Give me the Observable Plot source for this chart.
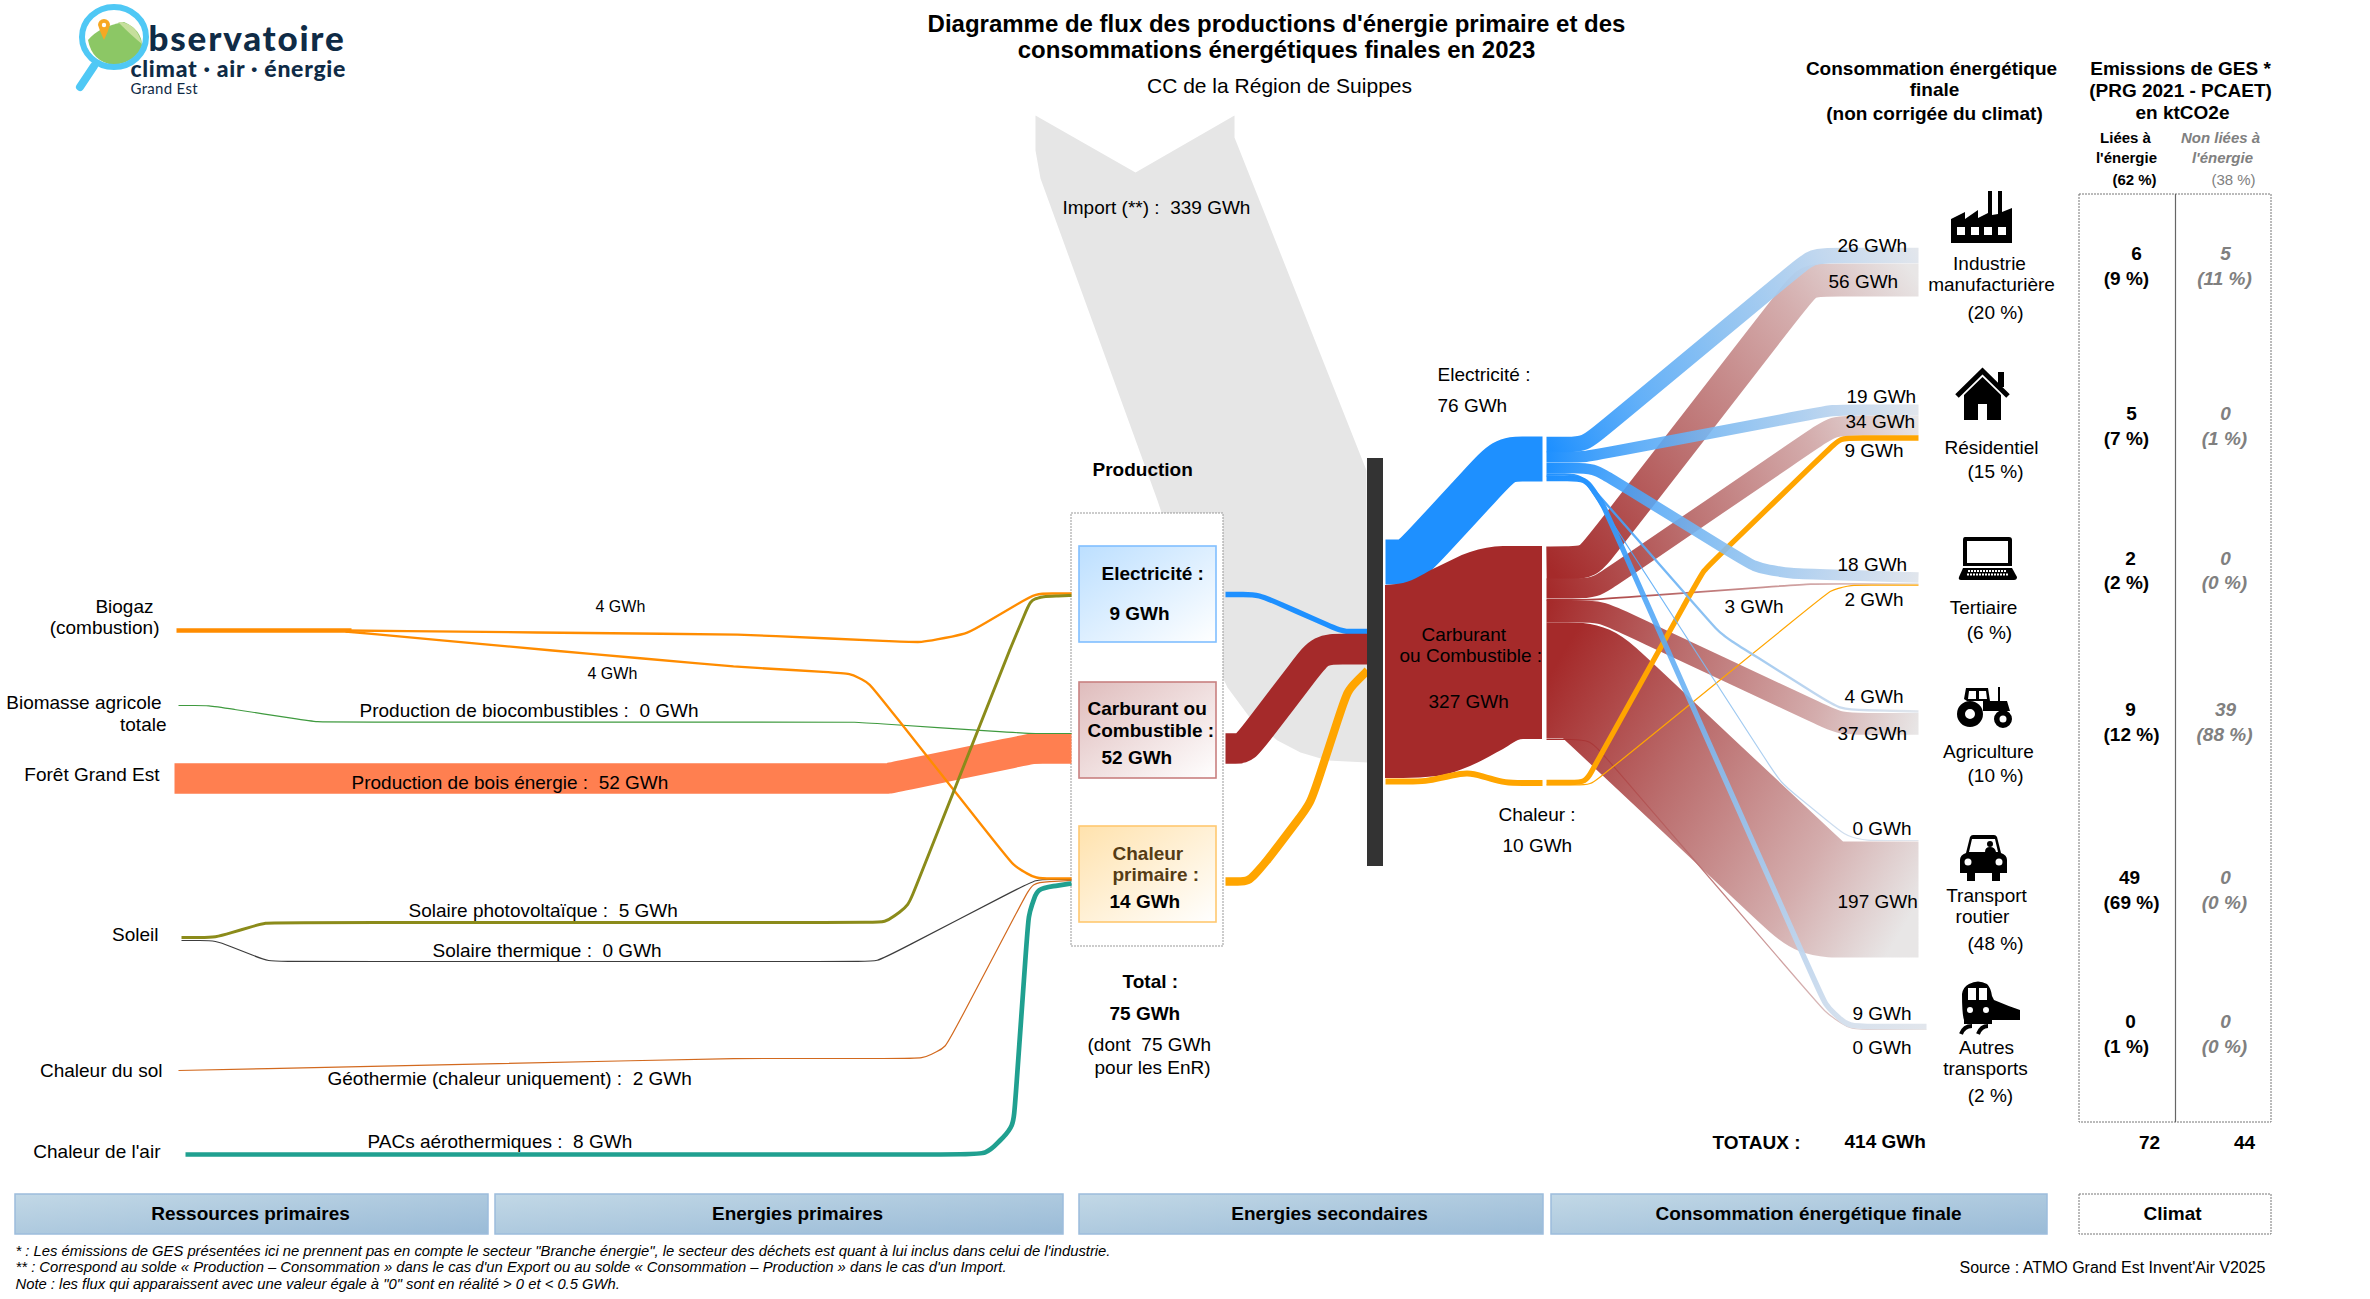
<!DOCTYPE html>
<html lang="fr">
<head>
<meta charset="utf-8">
<title>Diagramme de flux</title>
<script src="https://cdn.jsdelivr.net/npm/d3@7"></script>
<script src="https://cdn.jsdelivr.net/npm/@observablehq/plot@0.6"></script>
<style>html,body{margin:0;padding:0;background:#fff}svg{display:block}</style>
</head>
<body>
<div id="chart"></div>
<script>
// ---------- values (GWh, ktCO2e) ----------
const sectors = ["Industrie manufacturière","Résidentiel","Tertiaire","Agriculture","Transport routier","Autres transports"];
const sectorShares = [20,15,6,10,48,2];
const finalElectricity = [26,19,18,4,0,9];
const finalFuel = [56,34,3,37,197,0];
const finalHeat = [0,9,2,0,0,0];
const gesEnergy = [6,5,2,9,49,0];
const gesEnergyShare = [9,7,2,12,69,1];
const gesOther = [5,0,0,39,0,0];
const gesOtherShare = [11,1,0,88,0,0];
const gesTotals = [72,44];
const gesShares = [62,38];
const secondaryNames = ["Electricité","Carburant ou Combustible","Chaleur"];
const secondaryValues = [76,327,10];
const productionValues = [9,52,14];
const productionTotal = 75, productionRenewable = 75, importValue = 339, finalTotal = 414;
const biogasValues = [4,4];
const biofuelValue = 0, woodValue = 52, pvValue = 5, solarThermalValue = 0, geothermalValue = 2, heatPumpValue = 8;

// ---------- drawing scale and flow routes (chart units) ----------
const PX_PER_GWH = 0.59;
const thick = v => Math.max(1.2, v * PX_PER_GWH);

const electricityRoutes = [
  [[1546,444],[1584,444],[1812,255],[1918,255]],
  [[1546,456.5],[1585,456.5],[1832,409.5],[1918,409.5]],
  [[1546,467.5],[1593,467.5],[1755,567],[1790,573],[1918,577]],
  [[1546,474],[1580,474],[1717,630],[1730,640],[1840,709],[1918,711]],
  [[1546,475.5],[1582,476],[1780,782],[1845,835],[1865,840],[1918,840]],
  [[1546,478],[1585,478],[1603,505],[1825,1005],[1848,1026],[1926,1026]]
];
const fuelRoutes = [
  [[1546,562.5],[1588,562],[1807,279.6],[1918,279.6]],
  [[1546,588],[1594,588],[1833,425],[1918,425]],
  [[1546,599.5],[1590,599.5],[1810,583.3],[1918,583.3]],
  [[1546,611],[1600,611],[1840,723.3],[1918,723.3]],
  [[1546,680],[1586,680],[1819,899],[1918,899]],
  [[1546,739],[1590,739],[1825,1012],[1850,1029],[1926,1029]]
];
const heatRoutes = {
  1: [[1546,782],[1585,782],[1600,755],[1703,570],[1840,437.5],[1918,437.5]],
  2: [[1546,784.5],[1590,784.5],[1830,590],[1850,584.7],[1918,584.7]]
};
const electricityBlockRoute = [[1385,561.5],[1409,561.5],[1504,458.5],[1542,458.5]];
const heatBlockRoute = [[1385,781],[1425,781],[1467,771.5],[1505,782.5],[1542,782.5]];
const fuelBlockX = [1385,1403,1437,1470,1503,1523,1542];
const fuelBlockTop = [585,583,567,552,546,546,546];
const fuelBlockBottom = [778,778,776,766,749,739,739];
const importShape = [[1035,115],[1135,172],[1234,115],[1234,137],[1366,470],[1367,762],[1327,760],[1300,752],[1277,740],[1250,718],[1227,687],[1195,620],[1172,545],[1157,500],[1040,178],[1035,150]];

const prodRoutes = [
  {v:productionValues[0], c:"#1e90ff", r:[[1225,594],[1258,594],[1335,628],[1345,631],[1367,631]]},
  {v:productionValues[1], c:"#a52a2a", r:[[1225,748],[1244,748],[1320,648.7],[1367,648.7]]},
  {v:productionValues[2], c:"#ffa500", r:[[1225,881],[1248,881],[1265,862],[1310,803],[1347,690],[1367,670]]}
];
const sourceRoutes = [
  {v:woodValue, c:"#ff7f50", rad:6, r:[[174,778],[888,778],[1032,748],[1071,748]]},
  {v:biofuelValue, c:"#3f9a3f", r:[[178,705],[208,705],[317,721.6],[854,721.6],[1028,733],[1071,733]]},
  {v:solarThermalValue, c:"#3c3c3c", r:[[181,940],[215,940],[268,961],[877,961],[1035,879],[1071,879]]},
  {v:geothermalValue, c:"#d2691e", r:[[178,1070],[733,1058],[922,1058],[945,1047],[1032,882],[1071,880]]},
  {v:biogasValues[0]+biogasValues[1], c:"#ff8c00", r:[[176,630],[351,630]]},
  {v:biogasValues[0], c:"#ff8c00", r:[[345,630],[737,634],[921,642],[967,633],[1035,593],[1071,593]]},
  {v:biogasValues[1], c:"#ff8c00", r:[[345,631],[552,650],[733,666],[850,673],[869,683],[1013,865],[1035,878],[1071,878]]},
  {v:pvValue, c:"#8b8b1a", r:[[181,937],[215,937],[265,922],[885,922],[908,905],[1009,650],[1030,600],[1042,596],[1071,595]]},
  {v:heatPumpValue, c:"#20a090", rad:20, r:[[185,1154],[986,1154],[1013,1126],[1028,915],[1037,888],[1071,883]]}
];

// rounds a route's corners by placing extra spline knots beside each one
function smooth(route, rad = 22) {
  const out = [route[0]];
  for (let i = 1; i < route.length - 1; i++) {
    const [a, p, b] = [route[i-1], route[i], route[i+1]];
    const la = Math.hypot(p[0]-a[0], p[1]-a[1]), lb = Math.hypot(b[0]-p[0], b[1]-p[1]);
    const d1 = Math.min(rad, la/2.2), d2 = Math.min(rad, lb/2.2);
    out.push([p[0]-(p[0]-a[0])*d1/la, p[1]-(p[1]-a[1])*d1/la], p, [p[0]+(b[0]-p[0])*d2/lb, p[1]+(b[1]-p[1])*d2/lb]);
  }
  out.push(route[route.length-1]);
  return out;
}
const ribbon = (route, value, stroke, o = {}) => Plot.line(smooth(route, o.rad ?? 22), {
  curve: "basis", stroke, strokeWidth: thick(value), strokeLinecap: "butt", strokeLinejoin: "round"
});

// ---------- gradients ----------
const flowGradients = [];
const gradFor = (route, kind, i) => {
  const id = `${kind}${i}`;
  flowGradients.push({id, kind, a: route[0], b: route[route.length-1]});
  return `url(#${id})`;
};
const fuelMarks = fuelRoutes.map((r,i) => ribbon(r, finalFuel[i], gradFor(r,"fuel",i)));
const elecMarks = electricityRoutes.map((r,i) => ribbon(r, finalElectricity[i], gradFor(r,"elec",i)));
const heatMarks = Object.entries(heatRoutes).map(([i,r]) => ribbon(r, finalHeat[i], "#ffa500", {rad:14}));

const boxGradients = [
  ["bElec","#bcdfff","#ffffff"],["bFuel","#dfbcbc","#ffffff"],["bHeat","#ffe2ad","#ffffff"],["band","#c2d8e6","#9abbd7"]
];
const defs = () => {
  const d = d3.create("svg:defs");
  const stopsFlow = {
    fuel: [[0,"#a52a2a",1],[0.37,"#b96a6a",0.97],[0.74,"#d4adad",1],[1,"#e8e6e6",1]],
    elec: [[0,"#1e90ff",1],[0.25,"#4fa6f7",0.88],[0.5,"#85bdf0",0.9],[0.8,"#c0d6ee",0.95],[1,"#e2e6ec",1]]
  };
  for (const g of flowGradients) {
    const n = d.append("linearGradient").attr("id",g.id).attr("gradientUnits","userSpaceOnUse")
      .attr("x1",g.a[0]).attr("y1",g.a[1]).attr("x2",g.b[0]+1).attr("y2",g.b[1]+1);
    for (const [o,c,a] of stopsFlow[g.kind]) n.append("stop").attr("offset",o).attr("stop-color",c).attr("stop-opacity",a);
  }
  for (const [id,c1,c2] of boxGradients) {
    const n = d.append("linearGradient").attr("id",id).attr("x1",0).attr("y1",0).attr("x2",1).attr("y2",1);
    n.append("stop").attr("offset",0).attr("stop-color",c1);
    n.append("stop").attr("offset",1).attr("stop-color",c2);
  }
  return d.node();
};

// ---------- pictograms ----------
const circ = (x,y,r) => `M${x-r} ${y}a${r} ${r} 0 1 0 ${2*r} 0a${r} ${r} 0 1 0 ${-2*r} 0Z`;
const icons = [
  {x:1951,y:191,p:[{d:"M0 52V28L14 21V28L27 19V27L37 22V0H41V24L47 23V0H51V21L61 17V52ZM6 36V44H14V36ZM20 36V44H28V36ZM33 36V44H41V36ZM47 36V44H55V36Z"}]},
  {x:1954,y:367,p:[{d:"M3 29L28.5 4L54 29",fill:"none",stroke:"#000",sw:5},{d:"M44 5H50V20H44Z"},{d:"M10 28L28.5 10L47 28V53H33V37H24V53H10Z"}]},
  {x:1959,y:537,p:[{d:"M6 0H50Q53 0 53 3V29H4V3Q4 0 6 0ZM8 4V26H49V4Z"},{d:"M4 31H53L58 40Q58 43 55 43H2Q-1 43 0 40Z"},{d:"M9 34H48M8 37.5H49",fill:"none",stroke:"#fff",sw:2,dash:"2 1"}]},
  {x:1957,y:687,p:[{d:circ(13,27,13)+circ(13,27,5)},{d:circ(46,32,9)+circ(46,32,3.5)},{d:"M7 12L9 1H31L33 14H50L53 24H26V14H10ZM12 4L11 12H19V4ZM22 4V12H30L29 4Z"},{d:"M41 0V14H43V0Z"}]},
  {x:1960,y:835,p:[{d:"M6 18L10 2Q11 0 13 0H34Q36 0 37 2L41 18Q47 20 47 25V38H40V46H32V38H15V46H7V38H0V25Q0 20 6 18ZM12 4L9 17H38L35 4Z"+circ(8,27,3.5)+circ(39,27,3.5)},{d:"M27 9a3 3 0 1 1 6 0a3 3 0 1 1-6 0M25 17Q25 12 30 12Q35 12 36 17Z"}]},
  {x:1958,y:980,p:[{d:"M11 4Q20 -1 29 4Q33 8 34 16L36 20Q50 26 62 30V40H34V44H6V40Q4 34 4 14Q5 7 11 4ZM10 8V20H18V8ZM21 8V20H29V8ZM9 30a3 3 0 1 0 6 0a3 3 0 1 0-6 0M25 30a3 3 0 1 0 6 0a3 3 0 1 0-6 0"},{d:"M3 54Q6 46 14 46M20 54Q23 46 30 46",fill:"none",stroke:"#000",sw:4}]}
];
const drawIcons = (_, {x, y}) => {
  const g = d3.create("svg:g");
  for (const ic of icons) {
    const t = g.append("g").attr("transform",`translate(${x(ic.x)},${y(ic.y)})`);
    for (const s of ic.p) t.append("path").attr("d",s.d).attr("fill",s.fill ?? "#000").attr("fill-rule","evenodd")
      .attr("stroke",s.stroke ?? "none").attr("stroke-width",s.sw ?? 0).attr("stroke-dasharray",s.dash ?? null);
  }
  return g.node();
};
const drawLogo = (_, {x, y}) => {
  const g = d3.create("svg:g").attr("transform",`translate(${x(0)},${y(0)})`);
  g.append("path").attr("d","M88 40Q100 26 124 22Q142 30 142 46Q136 62 114 65Q92 62 88 40Z").attr("fill","#8cc765");
  g.append("path").attr("d","M118 22Q136 22 142 44Q132 36 118 22Z").attr("fill","#c6df9c");
  g.append("path").attr("d","M98 25a6 6 0 1 1 12 0Q108 32 104 40Q100 32 98 25Z").attr("fill","#f7a823");
  g.append("circle").attr("cx",104).attr("cy",25).attr("r",2.2).attr("fill","#fff");
  g.append("ellipse").attr("cx",114).attr("cy",37).attr("rx",32).attr("ry",30).attr("fill","none").attr("stroke","#4fc8f5").attr("stroke-width",6);
  g.append("path").attr("d","M94 66L80 87").attr("stroke","#4fc8f5").attr("stroke-width",8).attr("stroke-linecap","round");
  return g.node();
};
const spaced = em => function(index, scales, values, dims, context, next) {
  const g = next(index, scales, values, dims, context);
  d3.select(g).selectAll("text").attr("letter-spacing", em);
  return g;
};

// ---------- labels ----------
const gwh = v => `${v} GWh`;
const nb = "\u00a0";
const txt = (rows, o = {}) => Plot.text(rows, {x:d=>d[0], y:d=>d[1], text:d=>d[2], fontSize:19, fill:"#000", textAnchor:"start", ...o});
const B = {fontWeight:700};
const pc = v => `(${v} %)`;

const gesY = [[253,278],[413,438],[558,582],[709,734],[877,902],[1021,1046]];
const gesX1 = [[2136,2126],[2131,2126],[2130,2126],[2130,2131],[2129,2131],[2130,2126]];
const gesRows1 = gesEnergy.flatMap((v,i)=>[[gesX1[i][0],gesY[i][0],String(v)],[gesX1[i][1],gesY[i][1],pc(gesEnergyShare[i])]]);
const gesRows2 = gesOther.flatMap((v,i)=>[[2225,gesY[i][0],String(v)],[2224,gesY[i][1],pc(gesOtherShare[i])]]);

const startLabels = [
  [595,606,gwh(biogasValues[0])],[587,673,gwh(biogasValues[1])],
];
const flowLabels = [
  [359,710,`Production de biocombustibles :${nb} ${gwh(biofuelValue)}`],
  [351,782,`Production de bois énergie :${nb} ${gwh(woodValue)}`],
  [408,910,`Solaire photovoltaïque :${nb} ${gwh(pvValue)}`],
  [432,950,`Solaire thermique :${nb} ${gwh(solarThermalValue)}`],
  [327,1078,`Géothermie (chaleur uniquement) :${nb} ${gwh(geothermalValue)}`],
  [367,1141,`PACs aérothermiques :${nb} ${gwh(heatPumpValue)}`],
  [1062,207,`Import (**) :${nb} ${gwh(importValue)}`],
  [1437,374,`${secondaryNames[0]} :`],[1437,405,gwh(secondaryValues[0])],
  [1421,634,"Carburant"],[1399,655,"ou Combustible :"],[1428,701,gwh(secondaryValues[1])],
  [1498,814,`${secondaryNames[2]} :`],[1502,845,gwh(secondaryValues[2])],
  [1087,1044,`(dont${nb} ${gwh(productionRenewable)}`],[1094,1067,"pour les EnR)"],
  [1724,606,gwh(finalFuel[2])],
  [1837,245,gwh(finalElectricity[0])],[1828,281.5,gwh(finalFuel[0])],
  [1846,396,gwh(finalElectricity[1])],[1845,421,gwh(finalFuel[1])],[1844,450,gwh(finalHeat[1])],
  [1837,564,gwh(finalElectricity[2])],[1844,599,gwh(finalHeat[2])],
  [1844,696,gwh(finalElectricity[3])],[1837,733,gwh(finalFuel[3])],
  [1852,828,gwh(finalElectricity[4])],[1837,901,gwh(finalFuel[4])],
  [1852,1013,gwh(finalElectricity[5])],[1852,1047,gwh(finalFuel[5])]
];
const resourceLabels = [
  [153,606,"Biogaz"],[159,627,"(combustion)"],[161,702,"Biomasse agricole"],[166,724,"totale"],
  [159,774,"Forêt Grand Est"],[158,934,"Soleil"],[162,1070,"Chaleur du sol"],[160,1151,"Chaleur de l'air"]
];
const boldStart = [
  [1092,469,"Production"],
  [1101,573,`${secondaryNames[0]} :`],[1109,613,gwh(productionValues[0])],
  [1087,708,"Carburant ou"],[1087,730,"Combustible :"],[1101,757,gwh(productionValues[1])],
  [1109,901,gwh(productionValues[2])],
  [1122,981,"Total :"],[1109,1013,gwh(productionTotal)],
  [1712,1142,"TOTAUX :"],[1844,1141,gwh(finalTotal)]
];
const heatBoxLabels = [[1112,853,"Chaleur"],[1112,874,"primaire :"]];
const boldCentered = [
  [1931,68,"Consommation énergétique"],[1934,89,"finale"],[1934,113,"(non corrigée du climat)"],
  [2180,68,"Emissions de GES *"],[2180,90,"(PRG 2021 - PCAET)"],[2182,112,"en ktCO2e"],
  [2149,1142,String(gesTotals[0])],[2244,1142,String(gesTotals[1])],
  [250,1213,"Ressources primaires"],[797,1213,"Energies primaires"],[1329,1213,"Energies secondaires"],[1808,1213,"Consommation énergétique finale"],[2172,1213,"Climat"]
];
const sectorLabels = [
  [1989,263,"Industrie"],[1991,284,"manufacturière"],[1995,312,pc(sectorShares[0])],
  [1991,447,sectors[1]],[1995,471,pc(sectorShares[1])],
  [1983,607,sectors[2]],[1989,632,pc(sectorShares[2])],
  [1988,751,sectors[3]],[1995,775,pc(sectorShares[3])],
  [1986,895,"Transport"],[1982,916,"routier"],[1995,943,pc(sectorShares[4])],
  [1986,1047,"Autres"],[1985,1068,"transports"],[1990,1095,pc(sectorShares[5])]
];
const footnotes = [
  [15,1251,"* : Les émissions de GES présentées ici ne prennent pas en compte le secteur \"Branche énergie\", le secteur des déchets est quant à lui inclus dans celui de l'industrie."],
  [15,1267,"** : Correspond au solde « Production – Consommation » dans le cas d'un Export ou au solde « Consommation – Production » dans le cas d'un Import."],
  [15,1284,"Note : les flux qui apparaissent avec une valeur égale à \"0\" sont en réalité > 0 et < 0.5 GWh."]
];

const bands = [[15,488],[495,1063],[1079,1543],[1551,2047]];
const prodBoxes = [
  {y1:546,y2:642,fill:"url(#bElec)",stroke:"#80bfff"},
  {y1:682,y2:778,fill:"url(#bFuel)",stroke:"#c88080"},
  {y1:826,y2:922,fill:"url(#bHeat)",stroke:"#ffc870"}
];

const chart = Plot.plot({
  width: 2370, height: 1299, margin: 0,
  x: {domain:[0,2370], range:[0,2370], axis:null},
  y: {domain:[0,1299], range:[0,1299], axis:null},
  style: {fontFamily:"'Liberation Sans', Arial, sans-serif", background:"#fff", overflow:"hidden"},
  marks: [
    defs,
    drawLogo,
    txt([[148,39,"bservatoire"]],{fontFamily:"Lato, sans-serif",fontWeight:900,fontSize:35,fill:"#0f2b46",render:spaced(1.8)}),
    txt([[130,69,"climat · air · énergie"]],{fontFamily:"Lato, sans-serif",fontWeight:900,fontSize:23,fill:"#0f2b46",render:spaced(0.7)}),
    txt([[130,89,"Grand Est"]],{fontFamily:"Lato, sans-serif",fontSize:15,fill:"#0f2b46",render:spaced(0.3)}),

    Plot.line(importShape,{fill:"#e6e6e6",stroke:"none",curve:"linear"}),

    // production box
    Plot.rect([{}],{x1:1071,x2:1223,y1:513,y2:946,fill:"#fff",stroke:"#999",strokeDasharray:"2,1"}),
    Plot.rect(prodBoxes,{x1:1079,x2:1216,y1:"y1",y2:"y2",fill:d=>d.fill,stroke:d=>d.stroke,strokeWidth:1.6}),

    // primary resources towards production
    ...sourceRoutes.map(s => ribbon(s.r, s.v, s.c, {rad:s.rad ?? 16})),
    // production towards the hub
    ...prodRoutes.map(s => ribbon(s.r, s.v, s.c, {rad:22})),

    // secondary blocks
    ribbon(electricityBlockRoute, secondaryValues[0], "#1e90ff", {rad:30}),
    Plot.areaY(fuelBlockX.map((x,i)=>({x,t:fuelBlockTop[i],b:fuelBlockBottom[i]})),{x:"x",y1:"t",y2:"b",fill:"#a52a2a",curve:"monotone-x"}),
    ribbon(heatBlockRoute, secondaryValues[2], "#ffa500", {rad:18}),

    Plot.rect([{}],{x1:1367,x2:1383,y1:458,y2:866,fill:"#333333"}),

    // final consumption
    ...fuelMarks, ...heatMarks, ...elecMarks,

    drawIcons,

    // GES table
    Plot.rect([{}],{x1:2079,x2:2271,y1:194,y2:1122,fill:"none",stroke:"#777",strokeDasharray:"2,1"}),
    Plot.ruleX([2175],{y1:194,y2:1122,stroke:"#666",strokeWidth:1.2}),

    // footer bands
    Plot.rect(bands,{x1:d=>d[0],x2:d=>d[1],y1:1194,y2:1234,fill:"url(#band)",stroke:"#9cbcdc",strokeWidth:1.5}),
    Plot.rect([{}],{x1:2079,x2:2271,y1:1194,y2:1234,fill:"#fff",stroke:"#777",strokeDasharray:"2,1"}),

    // text
    txt([[1276,24,"Diagramme de flux des productions d'énergie primaire et des"],[1276,50,"consommations énergétiques finales en 2023"]],{...B,fontSize:24,textAnchor:"middle"}),
    txt([[1279,86,"CC de la Région de Suippes"]],{fontSize:21,textAnchor:"middle"}),
    txt(resourceLabels,{textAnchor:"end"}),
    txt(startLabels,{fontSize:16}),
    txt(flowLabels),
    txt(boldStart,B),
    txt(heatBoxLabels,{...B,fill:"#553c15"}),
    txt(boldCentered,{...B,textAnchor:"middle"}),
    txt(sectorLabels,{textAnchor:"middle"}),
    txt([[2125,138,"Liées à"],[2126,158,"l'énergie"],[2134,180,pc(gesShares[0])]],{...B,fontSize:15,textAnchor:"middle"}),
    txt([[2220,138,"Non liées à"],[2222,158,"l'énergie"]],{...B,fontStyle:"italic",fontSize:15,fill:"#808080",textAnchor:"middle"}),
    txt([[2233,180,pc(gesShares[1])]],{fontSize:15,fill:"#808080",textAnchor:"middle"}),
    txt(gesRows1,{...B,textAnchor:"middle"}),
    txt(gesRows2,{...B,fontStyle:"italic",fill:"#808080",textAnchor:"middle"}),
    txt(footnotes,{fontStyle:"italic",fontSize:14.8}),
    txt([[1959,1267,"Source : ATMO Grand Est Invent'Air V2025"]],{fontSize:16})
  ]
});
document.getElementById("chart").append(chart);
</script>
</body>
</html>
